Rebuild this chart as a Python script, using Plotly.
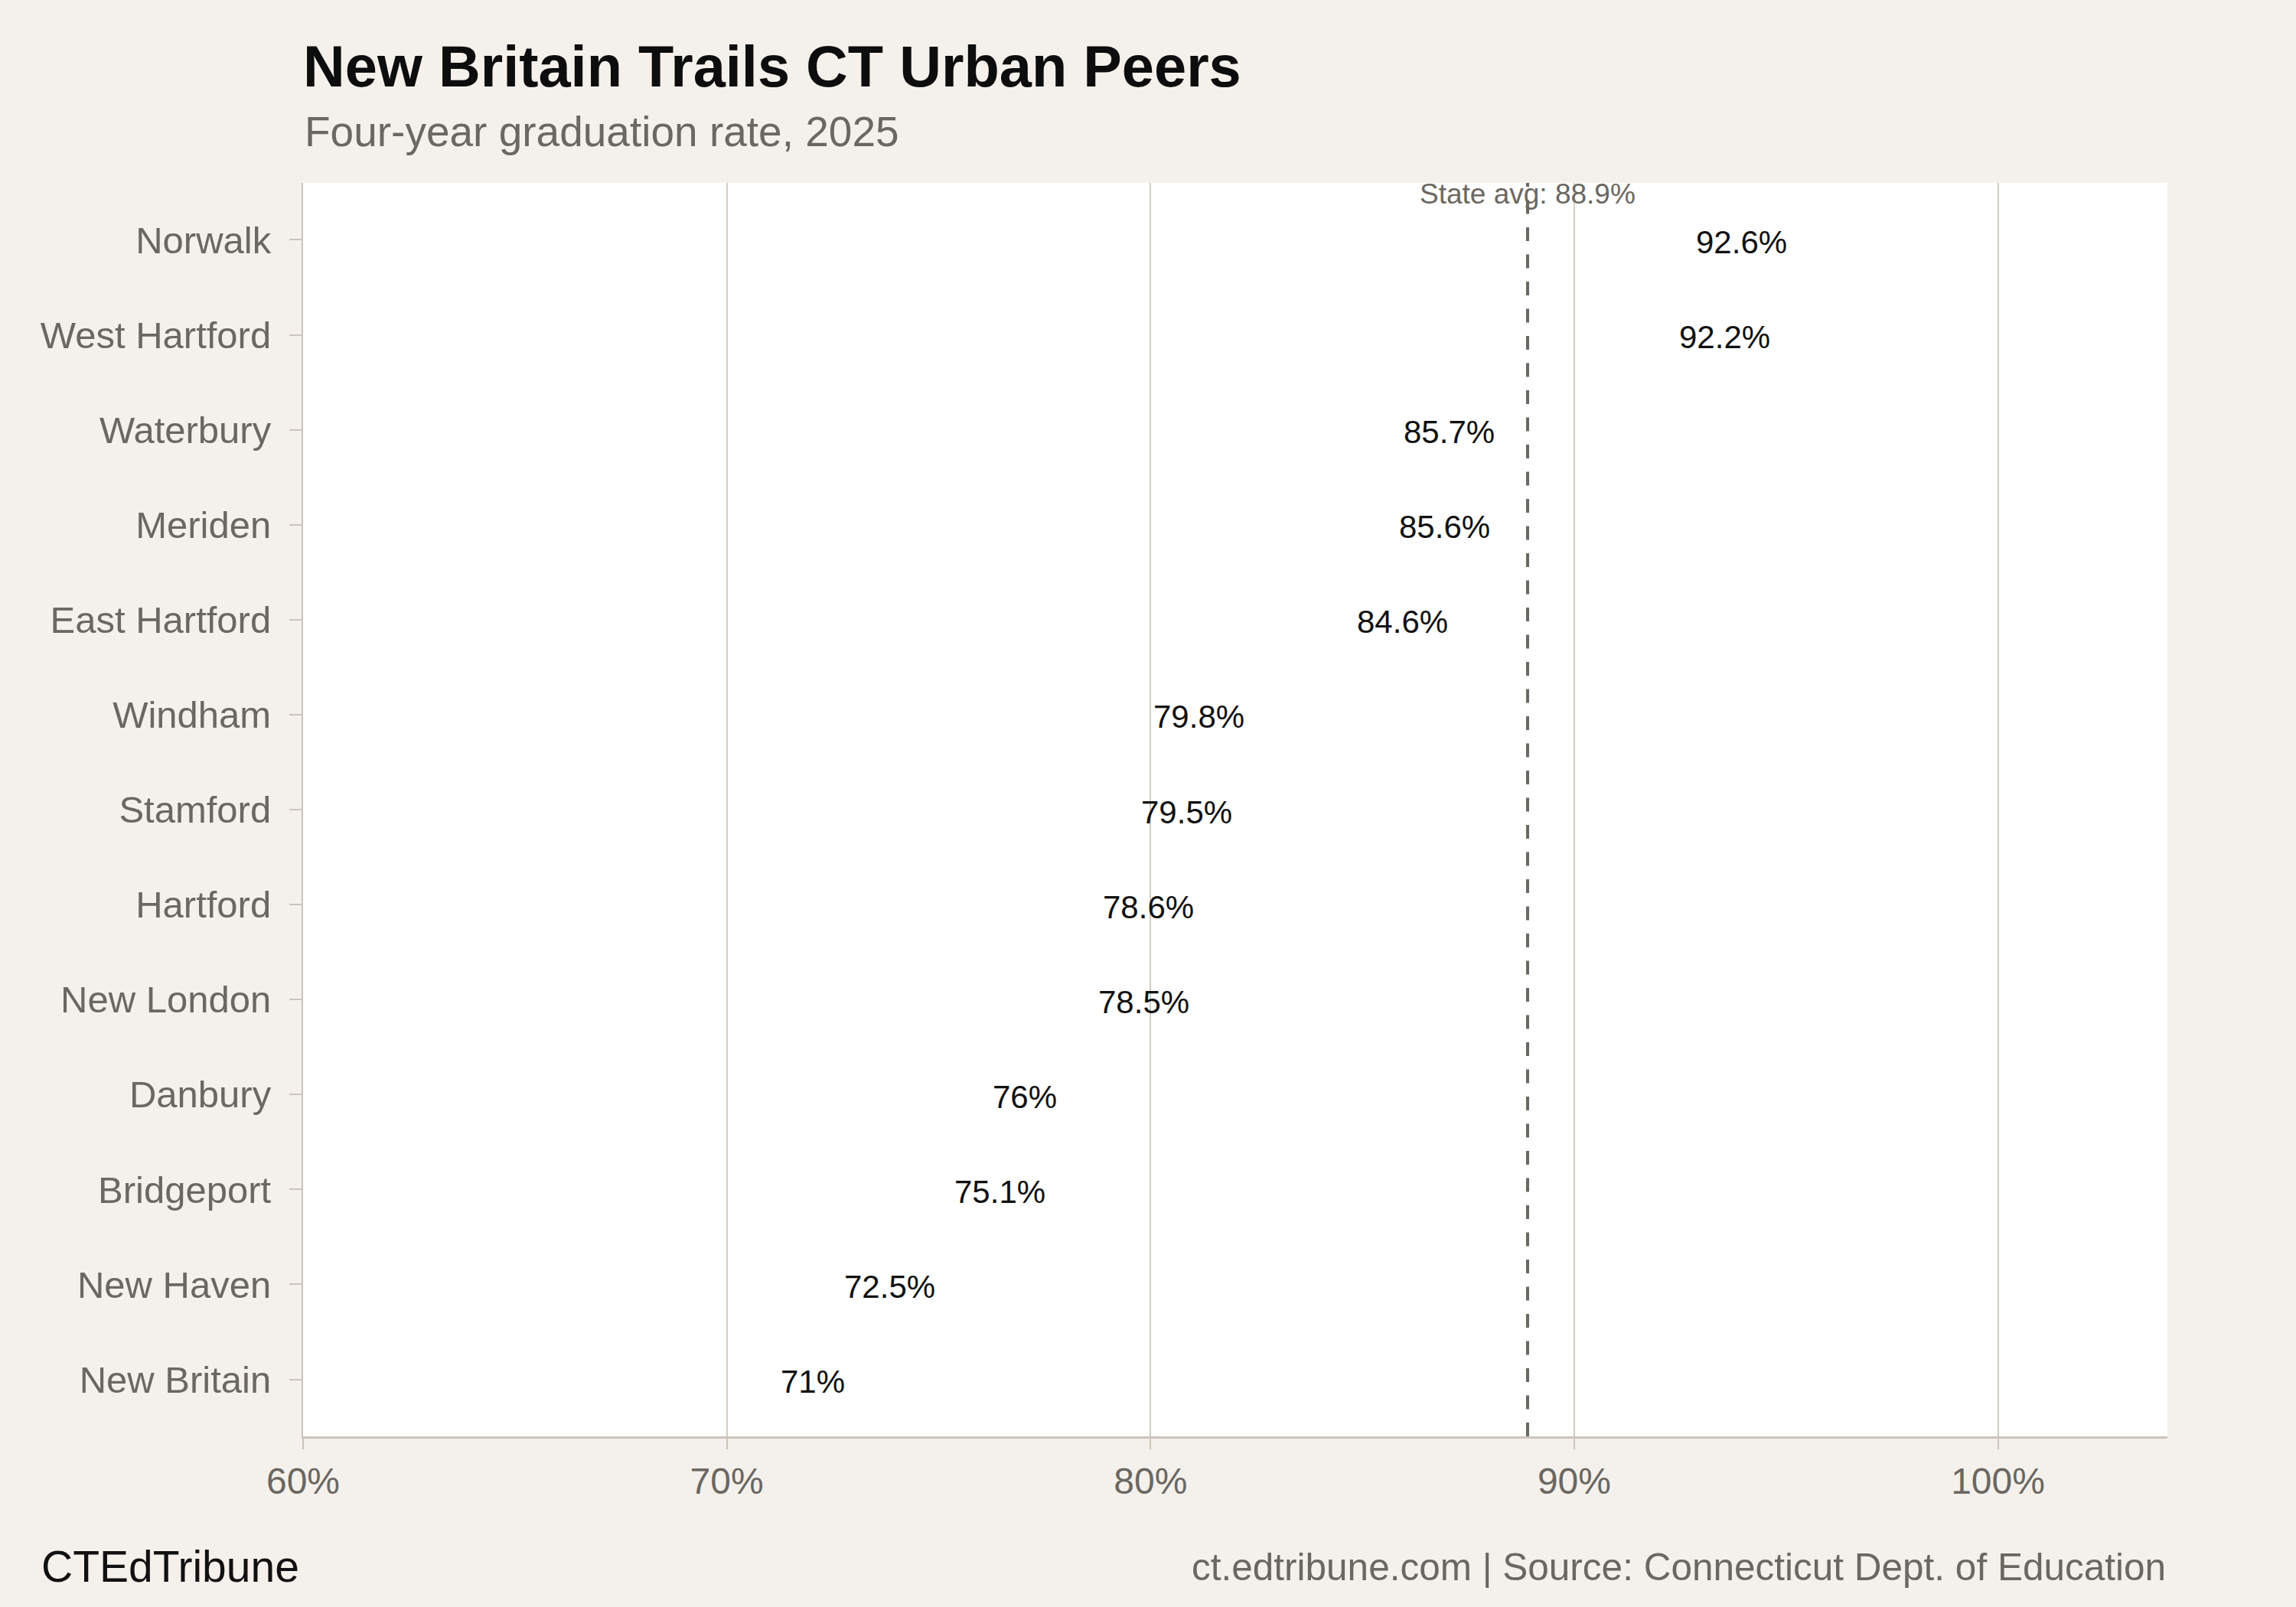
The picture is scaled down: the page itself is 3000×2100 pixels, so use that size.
import plotly.graph_objects as go

districts = ["Norwalk", "West Hartford", "Waterbury", "Meriden", "East Hartford",
             "Windham", "Stamford", "Hartford", "New London", "Danbury",
             "Bridgeport", "New Haven", "New Britain"]
grad_rate = [92.6, 92.2, 85.7, 85.6, 84.6, 79.8, 79.5, 78.6, 78.5, 76.0, 75.1, 72.5, 71.0]
value_labels = ["92.6%", "92.2%", "85.7%", "85.6%", "84.6%", "79.8%", "79.5%",
                "78.6%", "78.5%", "76%", "75.1%", "72.5%", "71%"]
state_avg = 88.9
x_ticks = [60, 70, 80, 90, 100]
x_tick_labels = ["60%", "70%", "80%", "90%", "100%"]

FONT = "Liberation Sans, Arial, Helvetica, sans-serif"
GRAY = "#6b6761"
PAPER = "#f4f1ec"

fig = go.Figure()
fig.add_trace(go.Scatter(
    x=grad_rate, y=districts, mode="markers",
    marker=dict(size=20, opacity=0, color="#000000"),
    hoverinfo="skip", showlegend=False, cliponaxis=False,
))
for xv, yv, lab in zip(grad_rate, districts, value_labels):
    fig.add_annotation(xref="x", yref="y", x=xv, y=yv, text=lab, showarrow=False,
                       xanchor="left", yanchor="middle", xshift=13, yshift=-3,
                       font=dict(family=FONT, size=42, color="#111111"))

fig.add_shape(type="line", xref="x", yref="paper", x0=state_avg, x1=state_avg, y0=0, y1=1,
              line=dict(color="#6b6761", width=4, dash="18px,17.5px"))
fig.add_annotation(xref="x", yref="paper", x=state_avg, y=1, yanchor="top", yshift=8,
                   text=f"State avg: {state_avg}%", showarrow=False,
                   font=dict(family=FONT, size=37, color=GRAY))

fig.add_annotation(xref="paper", yref="paper", x=0, y=1.0409, xanchor="left", yanchor="middle",
                   text="Four-year graduation rate, 2025", showarrow=False,
                   font=dict(family=FONT, size=55, color=GRAY))
fig.add_annotation(xref="paper", yref="paper", x=-0.1412, y=-0.1038, xanchor="left", yanchor="middle",
                   text="CTEdTribune", showarrow=False,
                   font=dict(family=FONT, size=57, color="#111111"))
fig.add_annotation(xref="paper", yref="paper", x=1, y=-0.1038, xanchor="right", yanchor="middle",
                   text="ct.edtribune.com | Source: Connecticut Dept. of Education", showarrow=False,
                   font=dict(family=FONT, size=49.5, color=GRAY))

fig.update_layout(
    width=3000, height=2100,
    paper_bgcolor=PAPER, plot_bgcolor="#ffffff",
    margin=dict(l=396, r=168, t=239, b=223),
    title=dict(text="<b>New Britain Trails CT Urban Peers</b>", x=396/3000, xanchor="left",
               xref="container", y=1-86/2100, yanchor="middle", yref="container",
               font=dict(family=FONT, size=75.8, color="#0d0d0d")),
    font=dict(family=FONT),
)
fig.update_xaxes(range=[60, 104], tickvals=x_ticks, ticktext=x_tick_labels,
                 showgrid=True, gridcolor="#d2cdc5", gridwidth=2,
                 showline=True, linecolor="#cbc5bb", linewidth=3,
                 ticks="outside", ticklen=14, tickwidth=2, tickcolor="#cbc5bb",
                 tickfont=dict(family=FONT, size=48, color=GRAY),
                 ticklabelstandoff=0, zeroline=False, fixedrange=True)
fig.update_yaxes(categoryorder="array", categoryarray=districts, range=[12.6, -0.6],
                 showgrid=False, showline=True, linecolor="#cbc5bb", linewidth=2,
                 ticks="outside", ticklen=16, tickwidth=2, tickcolor="#cbc5bb",
                 tickfont=dict(family=FONT, size=49, color=GRAY),
                 ticklabelstandoff=14, zeroline=False, fixedrange=True)

fig.write_html("out.html")
